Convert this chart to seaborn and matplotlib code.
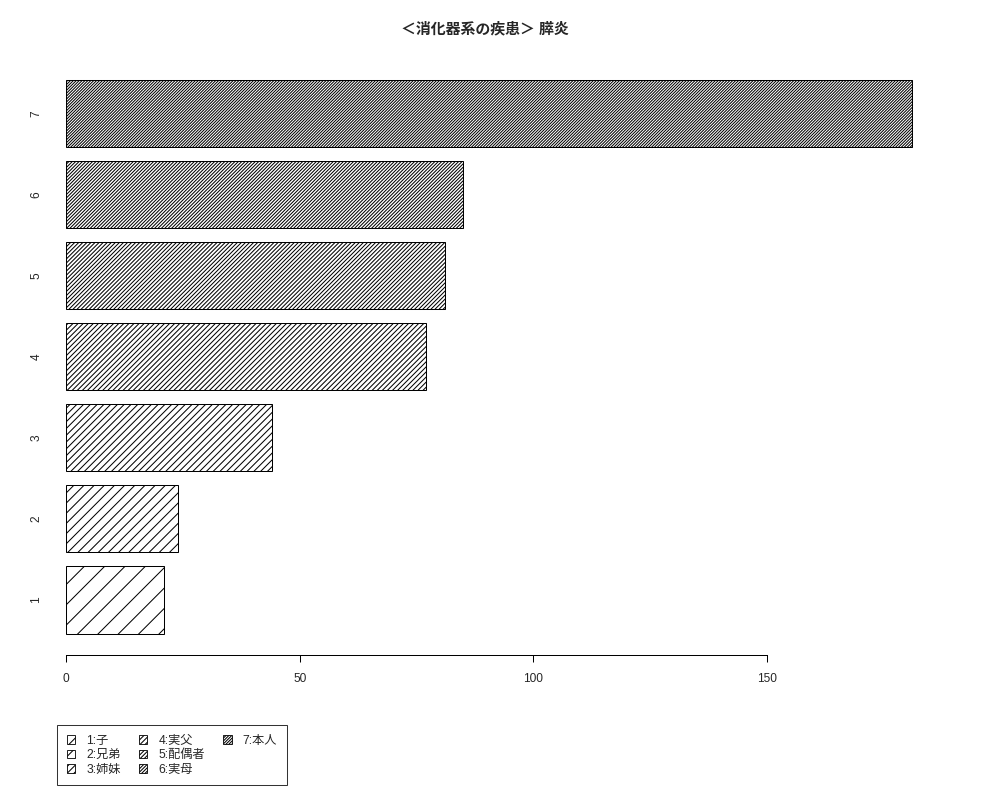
# Horizontal hatched bar chart: digestive disease (pancreatitis) by relation.

import pandas as pd
import seaborn as sns
import matplotlib.pyplot as plt
from matplotlib.patches import Patch

# data
ranks = ["1", "2", "3", "4", "5", "6", "7"]
counts = [21, 24, 44, 77, 81, 85, 181]
legend_labels = ["1:子", "2:兄弟", "3:姉妹", "4:実父", "5:配偶者", "6:実母", "7:本人"]
x_ticks = [0, 50, 100, 150]
title = "＜消化器系の疾患＞ 膵炎"

sns.set_style("white")
plt.rcParams["font.family"] = ["Liberation Sans", "Noto Sans CJK JP", "DejaVu Sans"]
plt.rcParams["hatch.color"] = "black"
plt.rcParams["hatch.linewidth"] = 0.6

df = pd.DataFrame({"rank": ranks, "count": counts})

# dpi 122 so that matplotlib hatch spacing matches R density 5,10,...,35
DPI = 122
fig = plt.figure(figsize=(1000 / DPI, 800 / DPI), dpi=DPI)
ax = fig.add_axes([0.066, 0.18075, 0.88, 0.74725])

order = ranks[::-1]
sns.barplot(data=df, x="count", y="rank", order=order, orient="h",
            width=0.83, color="white", saturation=1,
            edgecolor="black", linewidth=0.6, ax=ax)


def hatch_for(r):
    # "/" * 2 at this dpi ~ R density 5 lines per inch
    return "/" * (2 * int(r))


for patch, r in zip(ax.patches, order):
    patch.set_hatch(hatch_for(r))
    patch.set_facecolor("white")
    patch.set_edgecolor("black")

ax.set_xlim(0, 188.3)
ax.set_ylim(6.685, -0.69)
ax.set_xlabel("")
ax.set_ylabel("")
ax.set_xticks(x_ticks)
ax.set_xticklabels([str(t) for t in x_ticks])

for side in ["top", "right", "left"]:
    ax.spines[side].set_visible(False)
ax.spines["bottom"].set_bounds(0, 150)
ax.spines["bottom"].set_linewidth(0.6)
ax.spines["bottom"].set_color("black")

ax.tick_params(axis="x", length=4.1, width=0.6, color="black", pad=6.5,
               labelsize=7, bottom=True)
ax.tick_params(axis="y", length=0, pad=14, labelsize=7)
for lab in ax.get_yticklabels():
    lab.set_rotation(90)
    lab.set_va("center")

fig.text(0.485, 0.964, title, ha="center", va="center",
         fontsize=8.8, fontweight="bold")

# legend laid out like R: three rows, filled column by column
handles = [Patch(facecolor="white", edgecolor="black", linewidth=0.5,
                 hatch=hatch_for(r)) for r in ranks]
handles += [Patch(visible=False), Patch(visible=False)]
labels = legend_labels + ["", ""]
leg = fig.legend(handles, labels, ncol=3, loc="upper left",
                 bbox_to_anchor=(0.057, 0.09375), borderaxespad=0,
                 fontsize=7.2, frameon=True, fancybox=False,
                 handlelength=0.7, handleheight=0.7, handletextpad=0.9,
                 columnspacing=1.5, labelspacing=0.2, borderpad=0.8)
leg.get_frame().set_edgecolor("black")
leg.get_frame().set_linewidth(0.6)

fig.savefig("out.png", dpi=DPI)
